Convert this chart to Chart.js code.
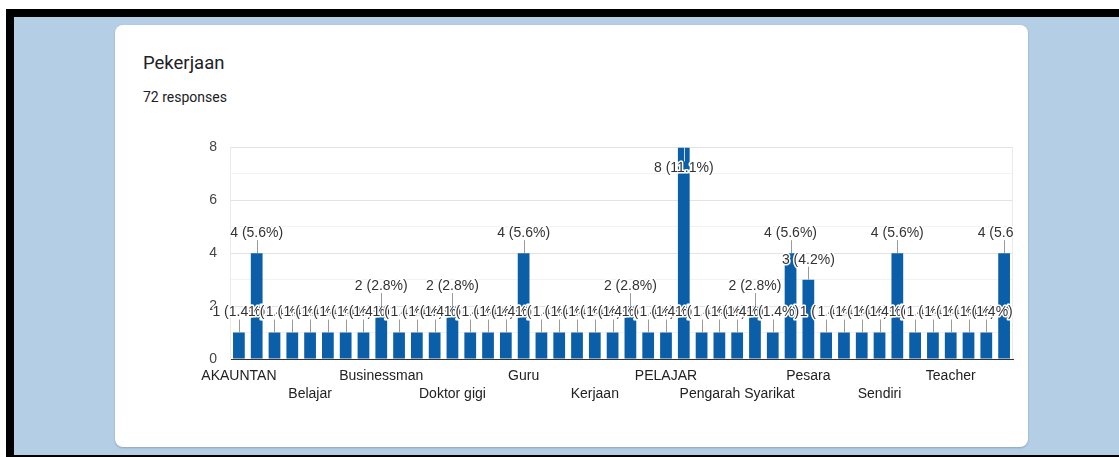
<!DOCTYPE html>
<html lang="ms">
<head>
  <meta charset="UTF-8">
  <title>Pekerjaan</title>
  <script src="https://cdn.jsdelivr.net/npm/chart.js"></script>
  <style>
    body {
      margin: 0;
      background: #fff;
      font-family: Roboto, Arial, sans-serif;
    }
    .frame {
      position: absolute;
      left: 6px; top: 9px;
      width: 1113px; height: 448px;
      background: #000;
    }
    .bg {
      position: absolute;
      left: 14px; top: 17px;
      right: 0; bottom: 2px;
      background: #b4cee5;
    }
    .card {
      position: absolute;
      left: 115px; top: 25px;
      width: 913px; height: 422px;
      background: #fff;
      border-radius: 8px;
      box-shadow: 0 1px 2px rgba(60, 64, 67, 0.3);
    }
    .title {
      position: absolute;
      left: 143px; top: 51px;
      font-size: 18.5px;
      line-height: 24px;
      color: #202124;
    }
    .sub {
      position: absolute;
      left: 143px; top: 88px;
      font-size: 14px;
      line-height: 18px;
      color: #202124;
    }
    .chart-box {
      position: absolute;
      left: 180px; top: 126px;
      width: 848px; height: 294px;
    }
  </style>
</head>
<body>
  <div class="frame"></div>
  <div class="bg"></div>
  <div class="card"></div>
  <div class="title">Pekerjaan</div>
  <div class="sub">72 responses</div>
  <div class="chart-box"><canvas id="bar"></canvas></div>

  <script>
    // jawapan (disusun ikut abjad seperti Google Forms); hanya setiap label ke-4 kelihatan
    const categories = [
      'AKAUNTAN', 'Akauntan', 'Arkitek', 'Askar',
      'Belajar', 'Bisnes', 'Bomba', 'Bukan bekerja',
      'Businessman', 'Cikgu', 'Doktor', 'Doktor Gigi',
      'Doktor gigi', 'Eksekutif', 'Engineer', 'GURU',
      'Guru', 'Jurutera', 'Kakitangan awam', 'Kerani',
      'Kerjaan', 'Lecturer', 'Nurse', 'Operator',
      'PELAJAR', 'Pelajar', 'Pelajar universiti', 'Pembantu tadbir',
      'Pengarah Syarikat', 'Peniaga', 'Pensyarah', 'Perniagaan sendiri',
      'Pesara', 'Polis', 'Pramugari', 'Self employed',
      'Sendiri', 'Suri rumah', 'Swasta', 'TEACHER',
      'Teacher', 'Tiada', 'Tidak bekerja', 'Usahawan'
    ];
    const counts = [
      1, 4, 1, 1,
      1, 1, 1, 1,
      2, 1, 1, 1,
      2, 1, 1, 1,
      4, 1, 1, 1,
      1, 1, 2, 1,
      1, 8, 1, 1,
      1, 2, 1, 4,
      3, 1, 1, 1,
      1, 4, 1, 1,
      1, 1, 1, 4
    ];
    const yTicks = [0, 2, 4, 6, 8];

    const total = counts.reduce((a, b) => a + b, 0);

    // label "n (x%)" dengan garis kecil di atas bar, gaya Google Charts
    const annotations = {
      id: 'annotations',
      afterDatasetsDraw(chart) {
        const ctx = chart.ctx;
        const area = chart.chartArea;
        const bars = chart.getDatasetMeta(0).data;
        ctx.save();
        ctx.beginPath();
        ctx.rect(0, 0, area.right, chart.height);
        ctx.clip();
        ctx.font = '14px Arial, "Liberation Sans", sans-serif';
        ctx.textAlign = 'center';
        ctx.textBaseline = 'middle';
        bars.forEach((bar, i) => {
          const v = counts[i];
          const text = v + ' (' + (v / total * 100).toFixed(1) + '%)';
          let ly = bar.y - 20;
          let inside = false;
          if (ly - 8 < area.top) {
            ly = bar.y + 21;
            inside = true;
          }
          ctx.strokeStyle = inside ? '#c9d7e6' : '#999';
          ctx.lineWidth = 1;
          ctx.beginPath();
          const x = Math.round(bar.x) + 0.5;
          if (inside) {
            ctx.moveTo(x, bar.y);
            ctx.lineTo(x, ly - 7);
          } else {
            ctx.moveTo(x, bar.y);
            ctx.lineTo(x, ly + 7);
          }
          ctx.stroke();
          ctx.lineWidth = 3;
          ctx.lineJoin = 'round';
          ctx.strokeStyle = '#fff';
          ctx.strokeText(text, bar.x, ly);
          ctx.fillStyle = '#333';
          ctx.fillText(text, bar.x, ly);
        });
        ctx.restore();
      }
    };

    // garis tepi kanan kawasan plot
    const rightEdge = {
      id: 'rightEdge',
      beforeDatasetsDraw(chart) {
        const ctx = chart.ctx;
        const a = chart.chartArea;
        ctx.save();
        ctx.strokeStyle = '#ebebeb';
        ctx.lineWidth = 1;
        ctx.beginPath();
        ctx.moveTo(Math.round(a.right) - 0.5, a.top);
        ctx.lineTo(Math.round(a.right) - 0.5, a.bottom);
        ctx.stroke();
        ctx.restore();
      }
    };

    new Chart(document.getElementById('bar').getContext('2d'), {
      type: 'bar',
      data: {
        labels: categories,
        datasets: [{
          data: counts,
          backgroundColor: '#0a5fa8',
          barPercentage: 0.66,
          categoryPercentage: 1
        }]
      },
      options: {
        responsive: true,
        maintainAspectRatio: false,
        animation: false,
        layout: { padding: { top: 13, right: 15, left: 0, bottom: 0 } },
        plugins: {
          legend: { display: false },
          tooltip: { enabled: false }
        },
        scales: {
          x: {
            afterFit(scale) { scale.height = 61; },
            grid: { display: false, drawTicks: false },
            border: { display: true, color: '#333' },
            ticks: {
              autoSkip: false,
              maxRotation: 0,
              padding: 8,
              color: '#222',
              font: { family: 'Arial, "Liberation Sans", sans-serif', size: 14, lineHeight: 1.3 },
              callback(value, index) {
                const name = categories[index];
                if (index % 8 === 0) return name;
                if (index % 8 === 4) return ['', name];
                return '';
              }
            }
          },
          y: {
            min: 0,
            max: yTicks[yTicks.length - 1],
            afterFit(scale) { scale.width = 50; },
            grid: {
              drawTicks: false,
              color(c) {
                if (c.tick.value === 0) return 'rgba(0,0,0,0)';
                return yTicks.includes(c.tick.value) ? '#e3e3e3' : '#f2f2f2';
              }
            },
            border: { display: true, color: '#ebebeb' },
            ticks: {
              stepSize: 1,
              padding: 13,
              color: '#444',
              font: { family: 'Arial, "Liberation Sans", sans-serif', size: 14 },
              callback(value) {
                return yTicks.includes(value) ? value : '';
              }
            }
          }
        }
      },
      plugins: [rightEdge, annotations]
    });
  </script>
</body>
</html>
